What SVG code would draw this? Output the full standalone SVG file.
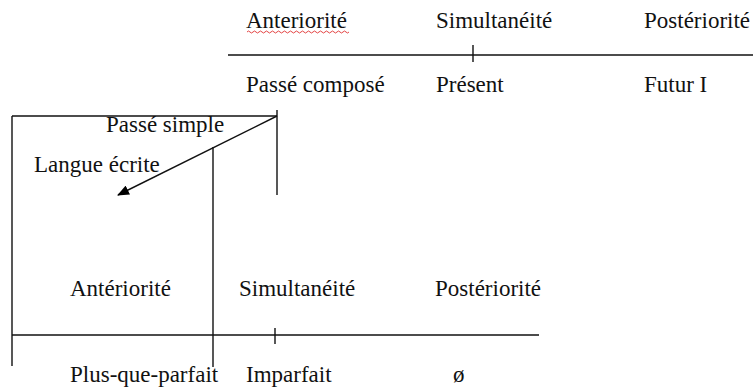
<svg xmlns="http://www.w3.org/2000/svg" width="753" height="387" viewBox="0 0 753 387">
<style>
text{font-family:'Liberation Serif','Times New Roman','DejaVu Serif',serif;font-size:23px;fill:#111}
.ln{stroke:#111;stroke-width:1.4;fill:none}
</style>
<defs>
<marker id="ah" markerWidth="12" markerHeight="10" refX="11" refY="5" orient="auto" markerUnits="userSpaceOnUse">
<path d="M0,0 L12,5 L0,10 Z" fill="#000"/>
</marker>
</defs>
<g id="top-axis" font-family="Liberation Serif, serif">
<text x="246" y="28">Anteriorité</text>
<path d="M247,32 q1.5,-2 3,0 t3,0 t3,0 t3,0 t3,0 t3,0 t3,0 t3,0 t3,0 t3,0 t3,0 t3,0 t3,0 t3,0 t3,0 t3,0 t3,0 t3,0 t3,0 t3,0 t3,0 t3,0 t3,0 t3,0 t3,0 t3,0 t3,0 t3,0 t3,0 t3,0 t3,0 t3,0 t3,0 t3,0" stroke="#e03030" stroke-width="0.9" fill="none"/>
<text x="436" y="28">Simultanéité</text>
<text x="644" y="28">Postériorité</text>
<line class="ln" x1="228" y1="55" x2="753" y2="55"/>
<line class="ln" x1="473" y1="45" x2="473" y2="62"/>
<text x="246" y="92">Passé composé</text>
<text x="436" y="92">Présent</text>
<text x="644" y="92">Futur I</text>
</g>
<g id="passe-simple-box">
<line class="ln" x1="12" y1="116" x2="277" y2="116"/>
<line class="ln" x1="12" y1="116" x2="12" y2="366"/>
<line class="ln" x1="277" y1="110" x2="277" y2="195"/>
<line class="ln" x1="213" y1="147" x2="213" y2="367"/>
<text x="106" y="132">Passé simple</text>
<text x="34" y="172">Langue écrite</text>
</g>
<g id="connectors">
<line class="ln" x1="277" y1="116" x2="118" y2="195" marker-end="url(#ah)"/>
</g>
<g id="bottom-axis">
<text x="70" y="296">Antériorité</text>
<text x="239" y="296">Simultanéité</text>
<text x="435" y="296">Postériorité</text>
<line class="ln" x1="12" y1="335" x2="539" y2="335"/>
<line class="ln" x1="275" y1="328" x2="275" y2="344"/>
<text x="70" y="382">Plus-que-parfait</text>
<text x="246" y="382">Imparfait</text>
<text x="453" y="382">ø</text>
</g>
</svg>
